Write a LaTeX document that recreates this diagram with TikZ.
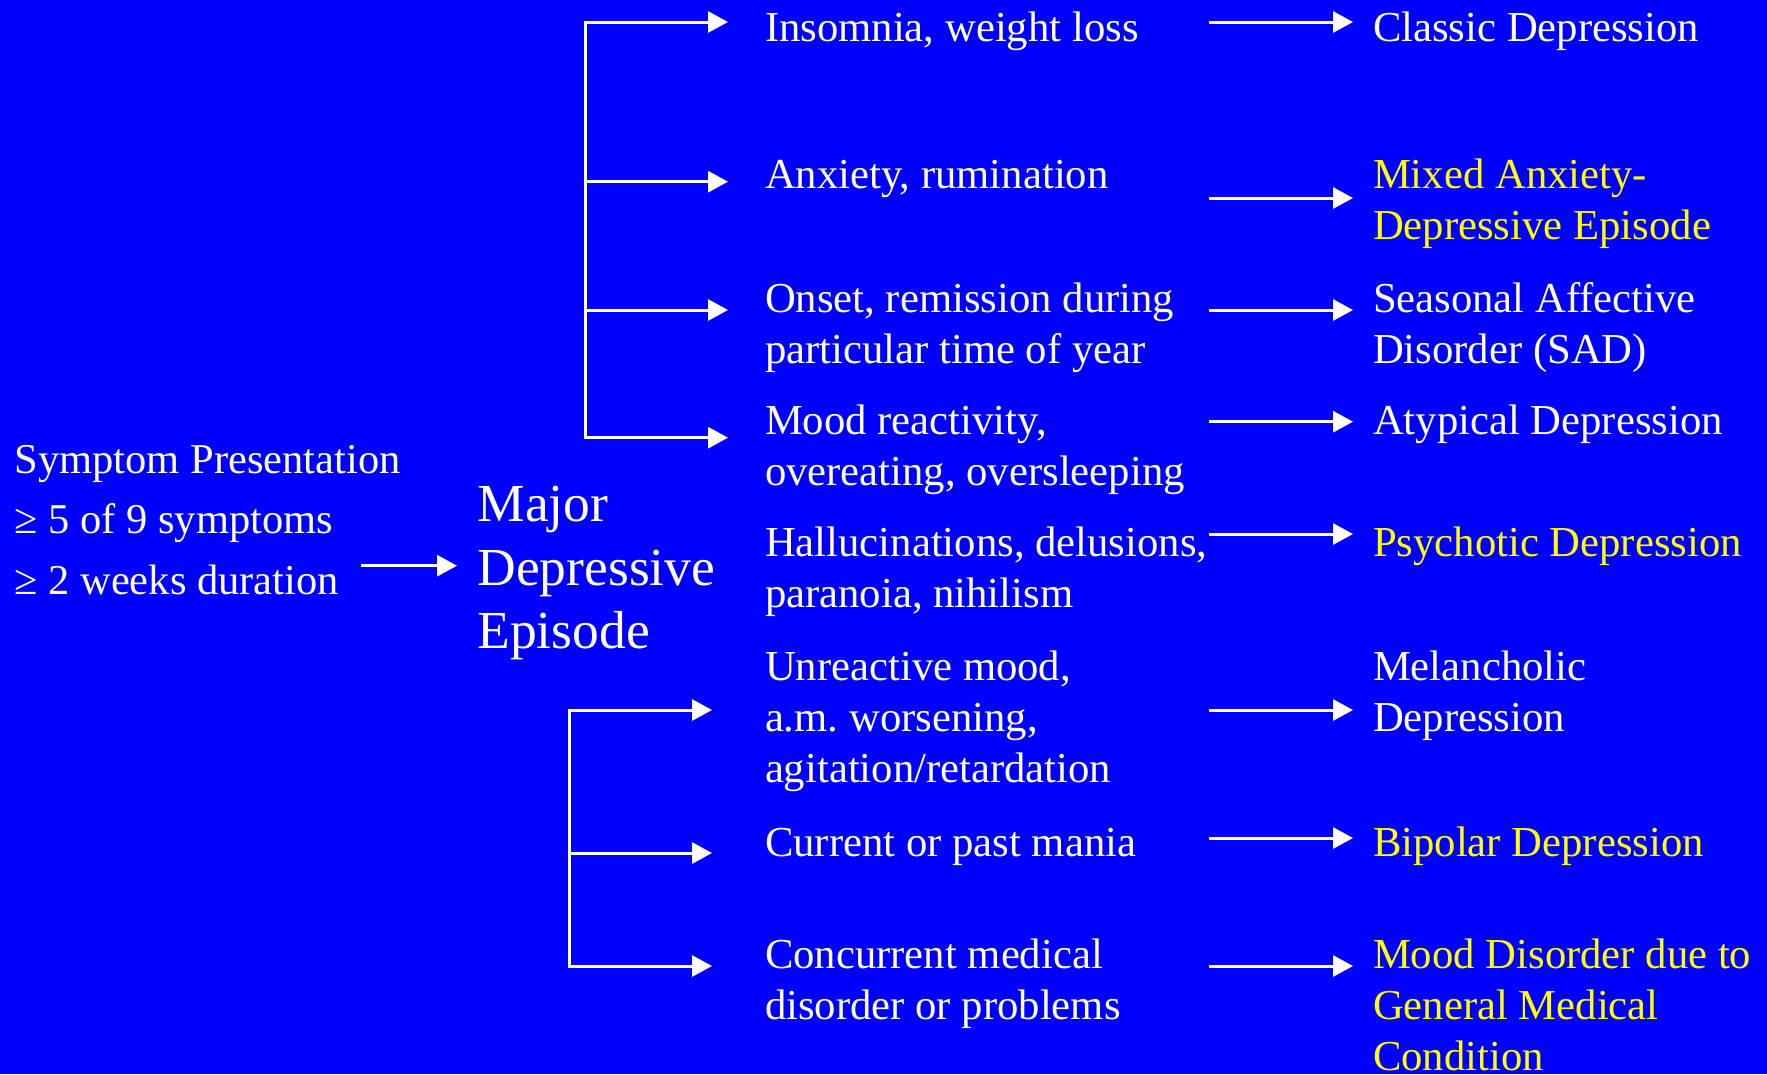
\documentclass[tikz,border=0pt]{standalone}
\usepackage{fontspec}
\setmainfont{Liberation Serif}
\usetikzlibrary{arrows.meta}
\definecolor{bgblue}{RGB}{0,0,255}
\definecolor{hiyellow}{RGB}{255,255,0}
\frenchspacing
\newcommand{\bodyfont}{\fontsize{42.7}{51}\selectfont}
\newcommand{\lines}[1]{\begin{tabular}[t]{@{}l@{}}#1\end{tabular}}
\begin{document}
\begin{tikzpicture}[x=1pt,y=-1pt,
  txt/.style={anchor=base west,inner sep=0pt,outer sep=0pt,text=white,font=\bodyfont},
  hl/.style={txt,text=hiyellow},
  arr/.style={draw=white,line width=3pt,-{Triangle[length=20pt,width=21pt]}},
  ln/.style={draw=white,line width=3pt}]
\useasboundingbox (0,0) rectangle (1767,1074);
\fill[bgblue] (0,0) rectangle (1767,1074);
% left
\node[txt,font=\fontsize{42.5}{60.5}\selectfont] (sym) at (14.5,473) {\lines{Symptom Presentation\\ ≥ 5 of 9 symptoms\\ ≥ 2 weeks duration}};
\node[txt,font=\fontsize{53.5}{63.5}\selectfont] (mde) at (477.5,521.7) {\lines{Major\\ Depressive\\ Episode}};
\coordinate (a0) at (361,565.7);
\coordinate (a1) at (457,565.7);
\draw[arr] (a0) -- (a1);
% middle column
\node[txt] (m1) at (765,41) {Insomnia, weight loss};
\node[txt] (m2) at (765,188) {Anxiety, rumination};
\node[txt] (m3) at (765,312) {\lines{Onset, remission during\\ particular time of year}};
\node[txt] (m4) at (765,434.5) {\lines{Mood reactivity,\\ overeating, oversleeping}};
\node[txt] (m5) at (765,556.7) {\lines{Hallucinations, delusions,\\ paranoia, nihilism}};
\node[txt] (m6) at (765,680) {\lines{Unreactive mood,\\ a.m. worsening,\\ agitation/retardation}};
\node[txt] (m7) at (765,856.7) {Current or past mania};
\node[txt] (m8) at (765,968) {\lines{Concurrent medical\\ disorder or problems}};
% right column
\node[txt] (r1) at (1373,41) {Classic Depression};
\node[hl]  (r2) at (1373,188) {\lines{Mixed Anxiety-\\ Depressive Episode}};
\node[txt] (r3) at (1373,312) {\lines{Seasonal Affective\\ Disorder (SAD)}};
\node[txt] (r4) at (1373,434.5) {Atypical Depression};
\node[hl]  (r5) at (1373,556.7) {Psychotic Depression};
\node[txt] (r6) at (1373,680) {\lines{Melancholic\\ Depression}};
\node[hl]  (r7) at (1373,856.7) {Bipolar Depression};
\node[hl]  (r8) at (1373,968) {\lines{Mood Disorder due to\\ General Medical\\ Condition}};
% upper bracket
\coordinate (u1) at (585.5,22);
\coordinate (u2) at (585.5,181.7);
\coordinate (u3) at (585.5,310);
\coordinate (u4) at (585.5,437.7);
\coordinate (ut1) at (728,22);
\coordinate (ut2) at (728,181.7);
\coordinate (ut3) at (728,310);
\coordinate (ut4) at (728,437.7);
\draw[ln,line cap=rect] (u1) -- (u4);
\foreach \i in {1,2,3,4} \draw[arr] (u\i) -- (ut\i);
% lower bracket
\coordinate (l1) at (569.7,710);
\coordinate (l2) at (569.7,853);
\coordinate (l3) at (569.7,966);
\coordinate (lt1) at (712,710);
\coordinate (lt2) at (712,853);
\coordinate (lt3) at (712,966);
\draw[ln,line cap=rect] (l1) -- (l3);
\foreach \i in {1,2,3} \draw[arr] (l\i) -- (lt\i);
% right arrows
\foreach \i/\y in {1/22,2/198,3/310,4/421.7,5/534,6/710,7/838,8/966}{
  \coordinate (rs\i) at (1209,\y);
  \coordinate (re\i) at (1353,\y);
  \draw[arr] (rs\i) -- (re\i);
}
\end{tikzpicture}
\end{document}
